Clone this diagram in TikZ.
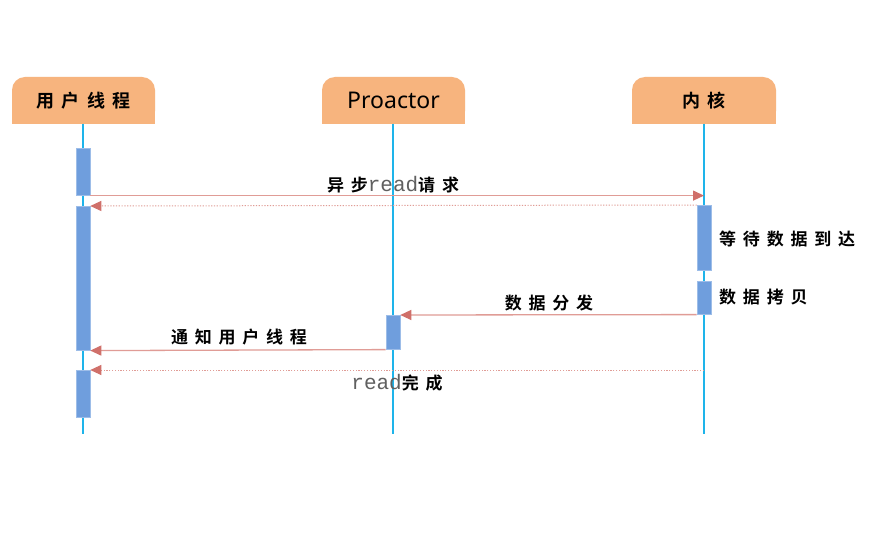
\documentclass[tikz,border=0pt]{standalone}
\usepackage{fontspec}
\newfontfamily\cjk{Noto Sans CJK SC}[BoldFont={Noto Sans CJK SC Bold},LetterSpace=40]
\newfontfamily\monofnt{Liberation Mono}
\newfontfamily\latinfnt{Noto Sans}
\usetikzlibrary{arrows.meta}
\definecolor{hdrcol}{HTML}{F7B47E}
\definecolor{actcol}{HTML}{6F9EDD}
\definecolor{actedge}{HTML}{9DBDE8}
\definecolor{lifecol}{HTML}{1EB4EA}
\definecolor{msgcol}{HTML}{E09C96}
\definecolor{tipcol}{HTML}{D0706A}
\definecolor{rdcol}{HTML}{606060}
\newcommand{\rd}{{\monofnt\mdseries\fontsize{21}{21}\selectfont\color{rdcol}read}}
\tikzset{
  hdr/.style={fill=hdrcol, rounded corners=13pt, minimum width=143pt, minimum height=47pt, inner sep=0pt,
    font=\cjk\bfseries\fontsize{18}{18}\selectfont},
  life/.style={draw=lifecol, line width=1.2pt},
  act/.style={fill=actcol, draw=actedge, line width=0.6pt, minimum width=14pt, inner sep=0pt, anchor=north},
  msg/.style={draw=msgcol, line width=1.3pt, -{Triangle[length=11pt,width=10pt,fill=tipcol,color=tipcol]}},
  ret/.style={draw=msgcol, line width=1pt, dash pattern=on 1.2pt off 1.6pt, -{Triangle[length=11pt,width=10pt,fill=tipcol,color=tipcol]}},
  lbl/.style={inner sep=0pt, font=\cjk\bfseries\fontsize{17}{17}\selectfont}
}
\begin{document}
\begin{tikzpicture}[x=1pt,y=-1pt]
\useasboundingbox[fill=white] (0,0) rectangle (874,537);
% headers
\fill[hdrcol] (12,100) rectangle (155,124);
\fill[hdrcol] (322,100) rectangle (465,124);
\fill[hdrcol] (632,100) rectangle (776,124);
\node[hdr] (u) at (83.5,100.5) {用户线程};
\node[hdr, font=\latinfnt\fontsize{23}{23}\selectfont] (p) at (393.5,100.5) {Proactor};
\node[hdr, minimum width=144pt] (k) at (704,100.5) {内核};
% lifeline ends
\coordinate (ue) at (83,434);
\coordinate (pe) at (393,434);
\coordinate (ke) at (704,434);
\draw[life] (83,124) -- (ue);
\draw[life] (393,124) -- (pe);
\draw[life] (704,124) -- (ke);
% activations
\node[act, minimum height=47pt] (a1) at (83,148) {};
\node[act, minimum height=144pt] (a2) at (83,206) {};
\node[act, minimum height=47pt] (a3) at (83,370) {};
\node[act, minimum height=34pt] (p1) at (393,315) {};
\node[act, minimum height=65pt] (k1) at (704,205) {};
\node[act, minimum height=33pt] (k2) at (704,281) {};
\coordinate (kr) at (704,370);
% messages
\draw[msg] (a1.south east) -- (a1.south east -| ke);
\draw[ret] (k1.north west) -- (a2.north east);
\draw[msg] (k2.south west) -- (p1.north east);
\draw[msg] (p1.south west) -- (a2.south east);
\draw[ret] (kr) -- (a3.north east);
% labels
\node[lbl] (l1) at (393,185) {异步\rd 请求};
\node[lbl] (l2) at (549,303) {数据分发};
\node[lbl] (l3) at (239,337) {通知用户线程};
\node[lbl] (l4) at (397,383) {\rd 完成};
\node[lbl, anchor=west] (l5) at (719,239) {等待数据到达};
\node[lbl, anchor=west] (l6) at (719,297) {数据拷贝};
\end{tikzpicture}
\end{document}
